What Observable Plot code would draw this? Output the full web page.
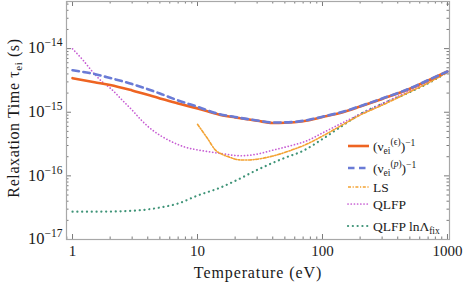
<!DOCTYPE html>
<html><head><meta charset="utf-8">
<script src="https://cdn.jsdelivr.net/npm/d3@7"></script>
<script src="https://cdn.jsdelivr.net/npm/@observablehq/plot@0.6"></script>
<style>
body{margin:0;background:#fff}
#chart{position:relative;width:466px;height:284px}
</style>
</head><body><div id="chart"></div>
<script>
// Temperature grid (eV) for the two collision-rate curves
const temps = [1,1.5,2,3,5,7,10,15,20,30,40,50,70,100,150,200,300,500,700,1000];
// (ν_ei^(ε))^-1  [s]
const tauEnergy = [3.43e-15,2.96e-15,2.68e-15,2.20e-15,1.65e-15,1.37e-15,1.15e-15,9.12e-16,8.28e-16,7.35e-16,6.79e-16,6.84e-16,7.24e-16,8.41e-16,1.02e-15,1.23e-15,1.62e-15,2.34e-15,3.16e-15,4.37e-15];
// (ν_ei^(p))^-1  [s]
const tauMomentum = [4.57e-15,3.98e-15,3.45e-15,2.77e-15,1.97e-15,1.53e-15,1.22e-15,9.33e-16,8.41e-16,7.41e-16,6.89e-16,6.92e-16,7.33e-16,8.51e-16,1.035e-15,1.245e-15,1.64e-15,2.37e-15,3.2e-15,4.37e-15];
// QLFP
const qlfpTemps = [1,1.2,1.5,1.75,2,2.5,3,3.5,4,5,6,7,8,10,12,16,22,30,40,55,75,100,150,200,300,500,700,1000];
const tauQLFP = [9.9e-15,6.76e-15,3.98e-15,2.94e-15,2.40e-15,1.55e-15,1.08e-15,7.74e-16,6.01e-16,4.35e-16,3.56e-16,3.10e-16,2.82e-16,2.56e-16,2.42e-16,2.22e-16,2.07e-16,2.20e-16,2.53e-16,2.96e-16,3.56e-16,4.73e-16,7.08e-16,9.33e-16,1.36e-15,2.19e-15,3.02e-15,4.27e-15];
// LS
const lsTemps = [10,12,14,16,18,22,26,30,40,55,75,100,150,200,300,500,700,1000];
const tauLS = [6.46e-16,3.89e-16,2.51e-16,2.15e-16,1.97e-16,1.78e-16,1.78e-16,1.83e-16,2.05e-16,2.49e-16,3.16e-16,4.22e-16,6.61e-16,9.02e-16,1.29e-15,2.09e-15,2.88e-15,4.27e-15];
// QLFP with fixed Coulomb logarithm
const fixTemps = [1,1.5,2,3,4,5,7,10,15,20,30,40,50,70,100,150,200,300,500,700,1000];
const tauQLFPfix = [2.74e-17,2.74e-17,2.75e-17,2.83e-17,2.97e-17,3.18e-17,3.68e-17,4.9e-17,6.46e-17,8.32e-17,1.24e-16,1.60e-16,1.92e-16,2.48e-16,3.80e-16,6.46e-16,9.33e-16,1.355e-15,2.07e-15,2.85e-15,4.27e-15];

const xTicks = [1,10,100,1000];
const xTickLabels = ["1","10","100","1000"];
const yTicks = [1e-17,1e-16,1e-15,1e-14];
const yTickExponents = ["−17","−16","−15","−14"];
const seriesColors = ["#EE6422","#6A7BD6","#F3A232","#C75DD3","#3F9478"];

const rows = (xs, ys) => xs.map((t, i) => ({T: t, tau: ys[i]}));

const W = 466, H = 284, mL = 66, mR = 17, mT = 1, mB = 45;
const innerH = H - mT - mB, innerW = W - mL - mR;
const xDomain = [0.895, 1038], yDomain = [1e-17, 5.5e-14];

const minor = (lo, hi) => {
  const out = [];
  for (let e = Math.floor(Math.log10(lo)); e <= Math.ceil(Math.log10(hi)); e++)
    for (let m = 2; m <= 9; m++) { const v = m * Math.pow(10, e); if (v > lo && v < hi) out.push(v); }
  return out;
};
const xMinor = minor(xDomain[0], xDomain[1]);
const yMinor = minor(yDomain[0], yDomain[1]);
const tickColor = "#7a7a7a";

const chart = Plot.plot({
  width: W, height: H,
  marginLeft: mL, marginRight: mR, marginTop: mT, marginBottom: mB,
  x: {type: "log", domain: xDomain},
  y: {type: "log", domain: yDomain},
  style: {fontFamily: "Liberation Serif, serif", fontSize: "15px", background: "#fff", color: "#1a1a1a"},
  marks: [
    Plot.tickX(xTicks, {x: d => d, insetTop: innerH - 5, stroke: tickColor}),
    Plot.tickX(xTicks, {x: d => d, insetBottom: innerH - 5, stroke: tickColor}),
    Plot.tickX(xMinor, {x: d => d, insetTop: innerH - 2.5, stroke: tickColor}),
    Plot.tickX(xMinor, {x: d => d, insetBottom: innerH - 2.5, stroke: tickColor}),
    Plot.tickY(yTicks, {y: d => d, insetRight: innerW - 5, stroke: tickColor}),
    Plot.tickY(yTicks, {y: d => d, insetLeft: innerW - 5, stroke: tickColor}),
    Plot.tickY(yMinor, {y: d => d, insetRight: innerW - 2.5, stroke: tickColor}),
    Plot.tickY(yMinor, {y: d => d, insetLeft: innerW - 2.5, stroke: tickColor}),
    Plot.axisX({ticks: xTicks, tickSize: 0, tickPadding: 6, tickFormat: d => xTickLabels[xTicks.indexOf(d)], label: null}),
    Plot.axisY({ticks: yTicks, tickSize: 0, tickPadding: 4, tickFormat: d => yTickExponents[yTicks.indexOf(d)], label: null}),
    Plot.frame({stroke: "#a8a8a8", strokeWidth: 1.2}),
    Plot.line(rows(fixTemps, tauQLFPfix), {x: "T", y: "tau", stroke: seriesColors[4], strokeWidth: 2.2, strokeLinecap: "round", strokeDasharray: "0.1,4.7", curve: "monotone-x"}),
    Plot.line(rows(qlfpTemps, tauQLFP), {x: "T", y: "tau", stroke: seriesColors[3], strokeWidth: 1.7, strokeLinecap: "round", strokeDasharray: "0.1,3.1", curve: "monotone-x"}),
    Plot.line(rows(lsTemps, tauLS), {x: "T", y: "tau", stroke: seriesColors[2], strokeWidth: 1.6, strokeDasharray: "3,1.6,1.2,1.6", curve: "monotone-x"}),
    Plot.line(rows(temps, tauEnergy), {x: "T", y: "tau", stroke: seriesColors[0], strokeWidth: 2.6, curve: "monotone-x"}),
    Plot.line(rows(temps, tauMomentum), {x: "T", y: "tau", stroke: seriesColors[1], strokeWidth: 2.6, strokeDasharray: "6.5,4.5", curve: "monotone-x"})
  ]
});
document.getElementById("chart").appendChild(chart);

const svg = d3.select(chart);
// y tick labels as 10^n
svg.selectAll('g[aria-label="y-axis tick label"] text').each(function() {
  const t = d3.select(this); const ex = t.text(); t.text("");
  t.append("tspan").attr("font-size", "16.5px").text("10");
  t.append("tspan").attr("dy", "-7").attr("font-size", "11.5px").text(ex);
});

const serif = "Liberation Serif, serif";
// Axis titles
svg.append("text").attr("x", 258).attr("y", 278).attr("text-anchor", "middle")
  .attr("font-family", serif).attr("font-size", 16).attr("letter-spacing", 0.9).attr("fill", "#1a1a1a")
  .text("Temperature (eV)");
const yl = svg.append("text").attr("transform", "translate(19,118) rotate(-90)").attr("text-anchor", "middle")
  .attr("font-family", serif).attr("font-size", 16).attr("letter-spacing", 0.6).attr("fill", "#1a1a1a");
yl.append("tspan").text("Relaxation Time τ");
yl.append("tspan").attr("dy", 3).attr("font-size", 11).text("ei");
yl.append("tspan").attr("dy", -3).text(" (s)");

// Legend
const legend = [
  {y: 146, dash: null, w: 2.6, cap: null, parts: [["(ν",0,13.5],["ei",3,9.5],["(ϵ)",-9,9.5],[")",6,13.5],["−1",-5,9.5]]},
  {y: 168, dash: "6.5,4.5", w: 2.6, cap: null, parts: [["(ν",0,13.5],["ei",3,9.5],["(",-9,9.5],["p",0,9.5,"italic"],[")",0,9.5],[")",6,13.5],["−1",-5,9.5]]},
  {y: 187, dash: "3,1.6,1.2,1.6", w: 1.6, cap: null, parts: [["LS",0,13.5]]},
  {y: 204, dash: "0.1,3.1", w: 1.7, cap: "round", parts: [["QLFP",0,13.5]]},
  {y: 226, dash: "0.1,4.7", w: 2.2, cap: "round", parts: [["QLFP lnΛ",0,13.5],["fix",3,9.5]]}
];
const lg = svg.append("g").attr("font-family", serif).attr("fill", "#1a1a1a").attr("text-anchor", "start");
legend.forEach((d, i) => {
  lg.append("line").attr("x1", 348).attr("x2", 369).attr("y1", d.y).attr("y2", d.y)
    .attr("stroke", seriesColors[i]).attr("stroke-width", d.w).attr("stroke-dasharray", d.dash)
    .attr("stroke-linecap", d.cap);
  const t = lg.append("text").attr("x", 373).attr("y", d.y + 4.5).attr("text-anchor", "start");
  d.parts.forEach(p => {
    const s = t.append("tspan").attr("dy", p[1]).attr("font-size", p[2]).text(p[0]);
    if (p[3]) s.attr("font-style", p[3]);
  });
});
</script>
</body></html>
